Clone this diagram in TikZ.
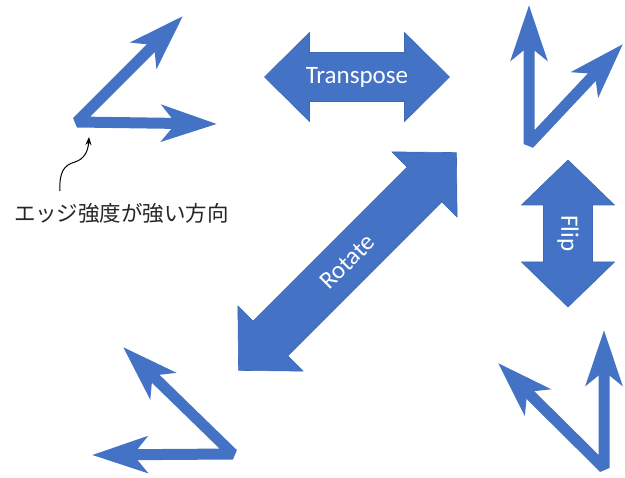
\documentclass[tikz,border=0pt]{standalone}
\usepackage{fontspec}
\setmainfont{Carlito}
\newfontfamily\jpfont{Noto Sans CJK JP}
\usetikzlibrary{arrows.meta}
\definecolor{officeblue}{HTML}{4472C4}
\definecolor{officeedge}{HTML}{3D68B6}
\tikzset{
  pair/.style={draw=officeblue, line width=11pt, line join=bevel,
    {Stealth[length=55pt,width=36pt,inset=14pt]}-{Stealth[length=55pt,width=36pt,inset=14pt]}},
  arrowbody/.style={fill=officeblue, draw=officeedge, line width=0.6pt},
  arrowtext/.style={text=white, font=\fontsize{25}{28}\selectfont, inner sep=0pt},
  note/.style={font=\jpfont\fontsize{21.5}{24}\selectfont, text=black!85, inner sep=0pt}
}
\newcommand\twoway[6]{%
  \begin{scope}[shift={#1}, rotate=#2]
  \fill[arrowbody] (-#3,0) -- ({-#3+45},#4) -- ({-#3+45},24.5) -- ({#3-45},24.5) -- ({#3-45},#4)
    -- (#3,0) -- ({#3-45},-#4) -- ({#3-45},-24.5) -- ({-#3+45},-24.5) -- ({-#3+45},-#4) -- cycle;
  \node[arrowtext, rotate=#2] (#5) at (0,0) {#6};
  \end{scope}}
\begin{document}
\begin{tikzpicture}[x=1pt, y=-1pt]
\useasboundingbox (0,0) rectangle (625,478);
\coordinate (tlv) at (77,122);
\coordinate (tla) at (183,16);
\coordinate (tlb) at (217,124);
\coordinate (trv) at (529,144);
\coordinate (tra) at (529,5);
\coordinate (trb) at (623,44);
\coordinate (blv) at (233,454);
\coordinate (bla) at (123,347);
\coordinate (blb) at (92,455);
\coordinate (brv) at (604,468);
\coordinate (bra) at (604,330);
\coordinate (brb) at (498,363);
\draw[pair] (tla) -- (tlv) -- (tlb);
\draw[pair] (tra) -- (trv) -- (trb);
\draw[pair] (bla) -- (blv) -- (blb);
\draw[pair] (bra) -- (brv) -- (brb);
\twoway{(357,77)}{0}{92.5}{44.5}{transpose}{Transpose}
\twoway{(568,233.5)}{-90}{73.5}{46.5}{flip}{Flip}
\twoway{(347.5,261.5)}{45}{154}{46}{rotate}{Rotate}
\node[note] (dir) at (121.5,213) {エッジ強度が強い方向};
\coordinate (src) at (60,191);
\coordinate (dst) at (89,137);
\draw[line width=1pt, -{Stealth[length=8pt,width=6pt]}] (src) .. controls (59,172) and (64,165) .. (75,162)
  .. controls (84,159) and (88,152) .. (dst);
\end{tikzpicture}
\end{document}
